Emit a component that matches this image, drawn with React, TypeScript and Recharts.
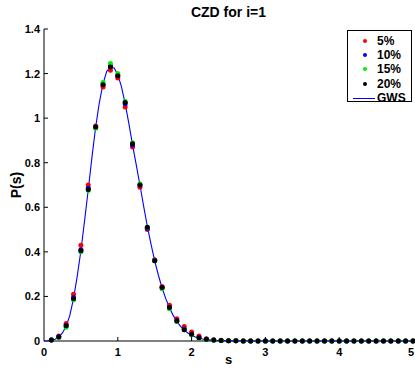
import React from "react";
import {
  ComposedChart,
  Scatter,
  Line,
  XAxis,
  YAxis,
} from "recharts";

// spacing s of the simulated points
const sPoints = [
  0.1, 0.2, 0.3, 0.4, 0.5, 0.6, 0.7, 0.8, 0.9, 1.0,
  1.1, 1.2, 1.3, 1.4, 1.5, 1.6, 1.7, 1.8, 1.9, 2.0,
  2.1, 2.2, 2.3, 2.4, 2.5, 2.6, 2.7, 2.8, 2.9, 3.0,
  3.1, 3.2, 3.3, 3.4, 3.5, 3.6, 3.7, 3.8, 3.9, 4.0,
  4.1, 4.2, 4.3, 4.4, 4.5, 4.6, 4.7, 4.8, 4.9, 5.0,
];

const tail = [
  0.001, 0.001, 0.0005, 0, 0, 0, 0, 0, 0, 0,
  0, 0, 0, 0, 0, 0, 0, 0, 0, 0,
  0, 0, 0, 0, 0, 0,
];

const p5 = [
  0.005, 0.022, 0.078, 0.21, 0.43, 0.7, 0.965, 1.14, 1.215, 1.18,
  1.05, 0.87, 0.69, 0.5, 0.365, 0.245, 0.16, 0.1, 0.065, 0.04,
  0.022, 0.01, 0.005, 0.003, ...tail,
];
const p10 = [
  0.004, 0.019, 0.07, 0.195, 0.41, 0.685, 0.96, 1.15, 1.235, 1.19,
  1.065, 0.88, 0.7, 0.505, 0.362, 0.24, 0.152, 0.092, 0.054, 0.03,
  0.016, 0.008, 0.004, 0.002, ...tail,
];
const p15 = [
  0.004, 0.016, 0.062, 0.185, 0.4, 0.675, 0.955, 1.16, 1.245, 1.2,
  1.075, 0.89, 0.705, 0.51, 0.36, 0.235, 0.145, 0.088, 0.05, 0.028,
  0.014, 0.007, 0.003, 0.002, ...tail,
];
const p20 = [
  0.004, 0.018, 0.068, 0.19, 0.405, 0.68, 0.96, 1.15, 1.23, 1.19,
  1.07, 0.885, 0.7, 0.51, 0.36, 0.24, 0.15, 0.09, 0.05, 0.03,
  0.015, 0.008, 0.004, 0.002, ...tail,
];

// GWS curve
const gwsS = [
  0, 0.05, 0.1, 0.15, 0.2, 0.25, 0.3, 0.35, 0.4, 0.45,
  0.5, 0.55, 0.6, 0.65, 0.7, 0.75, 0.8, 0.85, 0.9, 0.95,
  1.0, 1.05, 1.1, 1.15, 1.2, 1.25, 1.3, 1.35, 1.4, 1.45,
  1.5, 1.55, 1.6, 1.65, 1.7, 1.75, 1.8, 1.85, 1.9, 1.95,
  2.0, 2.05, 2.1, 2.15, 2.2, 2.3, 2.4, 2.5, 3, 4, 5,
];
const gwsP = [
  0, 0.0005, 0.003, 0.008, 0.018, 0.036, 0.066, 0.115, 0.19, 0.29,
  0.405, 0.54, 0.68, 0.825, 0.96, 1.07, 1.155, 1.21, 1.228, 1.225,
  1.195, 1.14, 1.065, 0.975, 0.88, 0.79, 0.7, 0.605, 0.515, 0.435,
  0.36, 0.295, 0.238, 0.19, 0.15, 0.115, 0.088, 0.066, 0.049, 0.036,
  0.026, 0.018, 0.013, 0.009, 0.006, 0.003, 0.0015, 0.0007, 0, 0, 0,
];

const xTicks = [0, 1, 2, 3, 4, 5];
const yTicks = [0, 0.2, 0.4, 0.6, 0.8, 1, 1.2, 1.4];

const series = [
  { name: "5%", values: p5, color: "#ff0000" },
  { name: "10%", values: p10, color: "#0000ff" },
  { name: "15%", values: p15, color: "#00ee00" },
  { name: "20%", values: p20, color: "#000000" },
];

const FONT = "'Liberation Sans', Arial, sans-serif";

const Dot = (props: any) => {
  const { cx, cy, fill } = props;
  if (cx == null || cy == null) return null;
  return <circle cx={cx} cy={cy} r={2.5} fill={fill} />;
};

const XTick = (props: any) => {
  const { x, y, payload } = props;
  return (
    <g>
      {payload.value > 0 && payload.value < 5 && (
        <line x1={x} y1={y} x2={x} y2={y - 4} stroke="#000" />
      )}
      <text
        x={x}
        y={y + 15}
        textAnchor="middle"
        fontFamily={FONT}
        fontWeight="bold"
        fontSize={11}
        fill="#000"
      >
        {payload.value}
      </text>
    </g>
  );
};

const YTick = (props: any) => {
  const { x, y, payload } = props;
  return (
    <g>
      {payload.value > 0 && (
        <line x1={x} y1={y} x2={x + 4} y2={y} stroke="#000" />
      )}
      <text
        x={x - 4}
        y={y + 4}
        textAnchor="end"
        fontFamily={FONT}
        fontWeight="bold"
        fontSize={11}
        fill="#000"
      >
        {payload.value}
      </text>
    </g>
  );
};

export default function App() {
  const gwsData = gwsS.map((s, i) => ({ s, p: gwsP[i] }));
  const baseData = [
    { s: xTicks[0], p: 0 },
    { s: xTicks[xTicks.length - 1], p: 0 },
  ];

  return (
    <div
      style={{
        position: "absolute",
        left: 0,
        top: 0,
        width: 415,
        height: 368,
        background: "#fff",
        fontFamily: FONT,
      }}
    >
      {/* Title */}
      <div
        style={{
          position: "absolute",
          left: 44,
          width: 369,
          top: 4,
          textAlign: "center",
          fontWeight: "bold",
          fontSize: 14,
        }}
      >
        CZD for i=1
      </div>

      {/* Y label */}
      <div
        style={{
          position: "absolute",
          left: 16,
          top: 185,
          transform: "translate(-50%, -50%) rotate(-90deg)",
          fontWeight: "bold",
          fontSize: 14,
          whiteSpace: "nowrap",
        }}
      >
        P(s)
      </div>

      {/* X label */}
      <div
        style={{
          position: "absolute",
          left: 44,
          width: 369,
          top: 352,
          textAlign: "center",
          fontWeight: "bold",
          fontSize: 13,
        }}
      >
        s
      </div>

      <ComposedChart
        width={415}
        height={368}
        margin={{ top: 29, right: 2, bottom: 7, left: 4 }}
      >
        <XAxis
          type="number"
          dataKey="s"
          domain={[0, 5]}
          ticks={xTicks}
          height={20}
          tickSize={0}
          tickMargin={0}
          axisLine={false}
          tickLine={false}
          tick={<XTick />}
        />
        <YAxis
          type="number"
          dataKey="p"
          domain={[0, 1.4]}
          ticks={yTicks}
          width={40}
          tickSize={0}
          tickMargin={0}
          axisLine={{ stroke: "#000", strokeWidth: 1 }}
          tickLine={false}
          tick={<YTick />}
        />
        {/* gray baseline under the markers */}
        <Line
          data={baseData}
          dataKey="p"
          stroke="#808080"
          strokeWidth={2}
          dot={false}
          activeDot={false}
          isAnimationActive={false}
          legendType="none"
        />
        {series.map((sr) => (
          <Scatter
            key={sr.name}
            name={sr.name}
            data={sPoints.map((s, i) => ({ s, p: sr.values[i] }))}
            fill={sr.color}
            shape={<Dot />}
            isAnimationActive={false}
          />
        ))}
        <Line
          data={gwsData}
          dataKey="p"
          type="linear"
          stroke="#0000ff"
          strokeWidth={1.1}
          dot={false}
          activeDot={false}
          isAnimationActive={false}
        />
      </ComposedChart>

      {/* Legend */}
      <div
        style={{
          position: "absolute",
          left: 347,
          top: 30,
          width: 65,
          height: 72,
          border: "1px solid #000",
          background: "#fff",
          boxSizing: "border-box",
          fontWeight: "bold",
          fontSize: 12,
        }}
      >
        {series.map((sr, i) => (
          <div
            key={sr.name}
            style={{
              position: "absolute",
              top: 3 + i * 14.2,
              left: 0,
              height: 14,
              lineHeight: "14px",
              width: "100%",
            }}
          >
            <span
              style={{
                position: "absolute",
                left: 15,
                top: 5,
                width: 4,
                height: 4,
                borderRadius: 2,
                background: sr.color,
              }}
            />
            <span style={{ position: "absolute", left: 29 }}>{sr.name}</span>
          </div>
        ))}
        <div
          style={{
            position: "absolute",
            top: 3 + 4 * 14.2,
            left: 0,
            height: 14,
            lineHeight: "14px",
            width: "100%",
          }}
        >
          <span
            style={{
              position: "absolute",
              left: 5,
              top: 7,
              width: 22,
              height: 1,
              background: "#0000ff",
            }}
          />
          <span style={{ position: "absolute", left: 29 }}>GWS</span>
        </div>
      </div>
    </div>
  );
}
